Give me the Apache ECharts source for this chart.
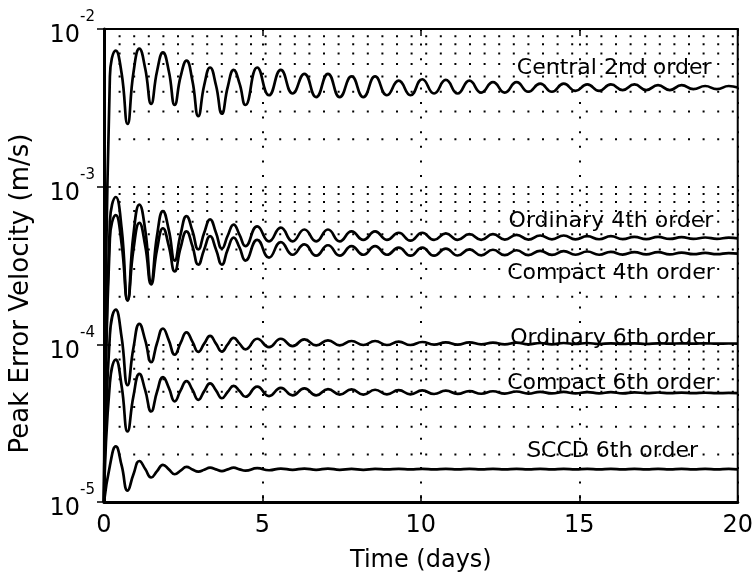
<!DOCTYPE html>
<html>
<head>
<meta charset="utf-8">
<title>Peak Error Velocity</title>
<script src="https://cdn.jsdelivr.net/npm/echarts@6/dist/echarts.min.js"></script>
<style>
  html, body { margin: 0; padding: 0; background: #fff; }
  #chart { width: 756px; height: 578px; }
</style>
</head>
<body>
<div id="chart"></div>
<script>
// Time grid: extremes every half inertial period, with quarter steps over the first six cycles
const HALF_PERIOD = 0.372
const times = []
for (let n = 0; n <= 12; n += 0.5) times.push(+(n * HALF_PERIOD).toFixed(3))
for (let n = 13; n <= 53; n++) times.push(+(n * HALF_PERIOD).toFixed(3))
times.push(20)

// Peak error velocity, one value per entry of `times`
const central2nd = [ // x 1e-3 m/s
  0.01, 5.0, 7.3, 5.2, 2.5, 5.3, 7.5, 5.6, 3.35, 5.4, 7.1, 5.4, 3.3, 5.0, 6.3, 4.7, 2.8, 4.4, 5.7, 4.4, 2.9, 4.3, 5.5, 4.5, 3.3,
  5.7, 3.8, 5.5, 3.9, 5.2, 3.7, 5.2, 3.7, 5.0, 3.7, 5.0, 3.8, 4.7, 3.8, 4.8, 3.9, 4.75, 3.9, 4.7, 3.95, 4.6,
  3.95, 4.6, 4.0, 4.5, 4.0, 4.5, 4.05, 4.45, 4.05, 4.45, 4.1, 4.45, 4.1, 4.4, 4.1, 4.4, 4.15, 4.35, 4.15, 4.35,
  4.25
]
const ordinary4th = [ // x 1e-4 m/s
  0.1, 6.0, 8.6, 5.4, 1.9, 5.0, 7.7, 5.3, 2.5, 4.9, 7.0, 5.3, 3.4, 5.0, 6.5, 5.25, 4.0, 5.1, 6.2, 5.1, 4.05, 4.9, 5.75, 4.95, 4.2,
  5.6, 4.5, 5.5, 4.5, 5.35, 4.5, 5.35, 4.5, 5.2, 4.6, 5.2, 4.6, 5.1, 4.55, 5.1, 4.6, 5.05, 4.6, 5.0, 4.6, 5.0,
  4.62, 4.95, 4.62, 4.9, 4.63, 4.9, 4.63, 4.85, 4.64, 4.85, 4.65, 4.8, 4.65, 4.8, 4.66, 4.78, 4.66, 4.76, 4.67, 4.75,
  4.7
]
const compact4th = [ // x 1e-4 m/s
  0.1, 4.7, 6.6, 4.3, 1.9, 4.0, 5.9, 4.2, 2.4, 4.0, 5.45, 4.2, 2.9, 4.1, 5.2, 4.2, 3.2, 4.0, 4.85, 4.0, 3.2, 4.0, 4.75, 4.1, 3.4,
  4.6, 3.55, 4.45, 3.7, 4.3, 3.65, 4.25, 3.65, 4.2, 3.7, 4.2, 3.7, 4.1, 3.65, 4.1, 3.65, 4.05, 3.66, 4.0, 3.67, 3.98,
  3.68, 3.95, 3.68, 3.92, 3.69, 3.9, 3.7, 3.88, 3.7, 3.86, 3.71, 3.85, 3.72, 3.84, 3.72, 3.82, 3.73, 3.8, 3.73, 3.79,
  3.76
]
const ordinary6th = [ // x 1e-5 m/s
  1.0, 11.5, 16.6, 11.0, 5.5, 9.5, 13.5, 10.6, 7.7, 10.2, 12.6, 10.6, 8.6, 10.2, 11.9, 10.4, 8.95, 10.1, 11.3, 10.1, 9.0, 10.0, 11.0, 10.1, 9.3,
  10.85, 9.6, 10.85, 9.75, 10.75, 9.85, 10.6, 9.85, 10.5, 9.9, 10.5, 9.9, 10.4, 9.9, 10.35, 9.95, 10.3, 9.95, 10.3, 10.0, 10.25,
  10.0, 10.25, 10.0, 10.2, 10.0, 10.2, 10.05, 10.2, 10.05, 10.15, 10.05, 10.15, 10.05, 10.15, 10.1, 10.15, 10.1, 10.15, 10.1, 10.12,
  10.1
]
const compact6th = [ // x 1e-5 m/s
  1.0, 5.7, 8.0, 5.4, 2.8, 4.7, 6.5, 5.1, 3.75, 5.0, 6.2, 5.3, 4.35, 5.1, 5.85, 5.15, 4.45, 5.05, 5.65, 5.1, 4.55, 5.0, 5.45, 5.05, 4.65,
  5.4, 4.7, 5.3, 4.75, 5.25, 4.75, 5.2, 4.8, 5.18, 4.8, 5.15, 4.82, 5.12, 4.82, 5.1, 4.84, 5.08, 4.85, 5.05, 4.86, 5.04,
  4.87, 5.02, 4.87, 5.0, 4.88, 4.99, 4.88, 4.98, 4.89, 4.97, 4.89, 4.96, 4.9, 4.95, 4.9, 4.94, 4.9, 4.93, 4.9, 4.92,
  4.9
]
const sccd6th = [ // x 1e-5 m/s
  1.0, 1.7, 2.25, 1.7, 1.18, 1.5, 1.82, 1.62, 1.43, 1.57, 1.72, 1.61, 1.5, 1.58, 1.67, 1.61, 1.56, 1.6, 1.65, 1.61, 1.57, 1.61, 1.65, 1.61, 1.58,
  1.64, 1.59, 1.63, 1.6, 1.63, 1.6, 1.63, 1.6, 1.62, 1.6, 1.62, 1.61, 1.62, 1.61, 1.62, 1.61, 1.62, 1.61, 1.62, 1.61, 1.62,
  1.61, 1.62, 1.61, 1.62, 1.61, 1.62, 1.61, 1.62, 1.61, 1.62, 1.61, 1.62, 1.61, 1.62, 1.61, 1.62, 1.61, 1.62, 1.61, 1.62,
  1.61
]

const curveNames = ['Central 2nd order', 'Ordinary 4th order', 'Compact 4th order',
  'Ordinary 6th order', 'Compact 6th order', 'SCCD 6th order']
const curveValues = [central2nd, ordinary4th, compact4th, ordinary6th, compact6th, sccd6th]
const curveUnits = [1e-3, 1e-4, 1e-4, 1e-5, 1e-5, 1e-5]
// where each curve's name is written (time in days, velocity in m/s)
const labelSpots = [[16.1, 5.63e-3], [16.0, 6.03e-4], [16.0, 2.83e-4], [16.05, 1.10e-4], [16.0, 5.7e-5], [16.05, 2.1e-5]]

const xTicks = [0, 5, 10, 15, 20]
const decades = [1e-5, 1e-4, 1e-3]
const minorSteps = [2, 3, 4, 5, 6, 7, 8, 9]

const FONT = "'DejaVu Sans', sans-serif"
const dotted = { color: '#000', width: 2, type: [2, 12.6] }

const chart = echarts.init(document.getElementById('chart'))

const series = curveNames.map((name, i) => ({
  name,
  type: 'line',
  data: times.map((t, j) => [t, curveValues[i][j] * curveUnits[i]]),
  showSymbol: false,
  smooth: 0.5,
  lineStyle: { color: '#000', width: 2.7 },
  z: 5,
  markPoint: {
    symbol: 'circle',
    symbolSize: 1,
    itemStyle: { color: 'rgba(0,0,0,0)' },
    silent: true,
    label: {
      show: true,
      position: 'inside',
      formatter: name,
      color: '#000',
      fontFamily: FONT,
      fontSize: 22
    },
    data: [{ coord: labelSpots[i] }]
  }
}))

// minor log grid (2..9 in every decade), dotted like the major grid
decades.forEach(d => minorSteps.forEach(k => {
  const v = +(d * k).toPrecision(3)
  series.push({
    type: 'line',
    data: [[xTicks[0], v], [xTicks[xTicks.length - 1], v]],
    showSymbol: false,
    silent: true,
    lineStyle: dotted,
    z: 1
  })
}))

chart.setOption({
  animation: false,
  backgroundColor: '#fff',
  textStyle: { fontFamily: FONT },
  grid: {
    left: 104, right: 17, top: 29, bottom: 70,
    show: true, borderColor: '#000', borderWidth: 2
  },
  xAxis: [{
    type: 'value',
    min: 0, max: 20, interval: 5,
    name: 'Time (days)',
    nameLocation: 'middle',
    nameGap: 47,
    nameTextStyle: { color: '#000', fontSize: 24, fontFamily: FONT },
    axisLine: { lineStyle: { color: '#000', width: 3 } },
    axisTick: { inside: true, length: 7, lineStyle: { color: '#000', width: 1.5 } },
    axisLabel: { color: '#000', fontSize: 24, margin: 12, fontFamily: FONT,
      formatter: v => xTicks.includes(v) ? String(v) : '' },
    splitLine: { show: true, lineStyle: dotted }
  }, {
    type: 'value',
    position: 'top',
    min: 0, max: 20, interval: 5,
    axisLine: { show: true, lineStyle: { color: '#000', width: 2 } },
    axisTick: { inside: true, length: 7, lineStyle: { color: '#000', width: 1.5 } },
    axisLabel: { show: false },
    splitLine: { show: false }
  }],
  yAxis: [{
    type: 'log',
    logBase: 10,
    min: 1e-5, max: 1e-2,
    name: 'Peak Error Velocity (m/s)',
    nameLocation: 'middle',
    nameGap: 70,
    nameTextStyle: { color: '#000', fontSize: 26, fontFamily: FONT, padding: [0, 56, 0, 0] },
    axisLine: { show: true, lineStyle: { color: '#000', width: 3 } },
    axisTick: { inside: true, length: 7, lineStyle: { color: '#000', width: 1.5 } },
    axisLabel: {
      margin: 9,
      formatter: v => '{b|10}{s|' + Math.round(Math.log10(v)) + '}',
      rich: {
        b: { color: '#000', fontSize: 24, fontFamily: FONT, lineHeight: 38, verticalAlign: 'bottom' },
        s: { color: '#000', fontSize: 15, fontFamily: FONT, verticalAlign: 'top' }
      }
    },
    splitLine: { show: true, lineStyle: dotted }
  }, {
    type: 'log',
    logBase: 10,
    min: 1e-5, max: 1e-2,
    position: 'right',
    axisLine: { show: true, lineStyle: { color: '#000', width: 2 } },
    axisTick: { inside: true, length: 7, lineStyle: { color: '#000', width: 1.5 } },
    axisLabel: { show: false },
    splitLine: { show: false }
  }],
  series
})
</script>
</body>
</html>
